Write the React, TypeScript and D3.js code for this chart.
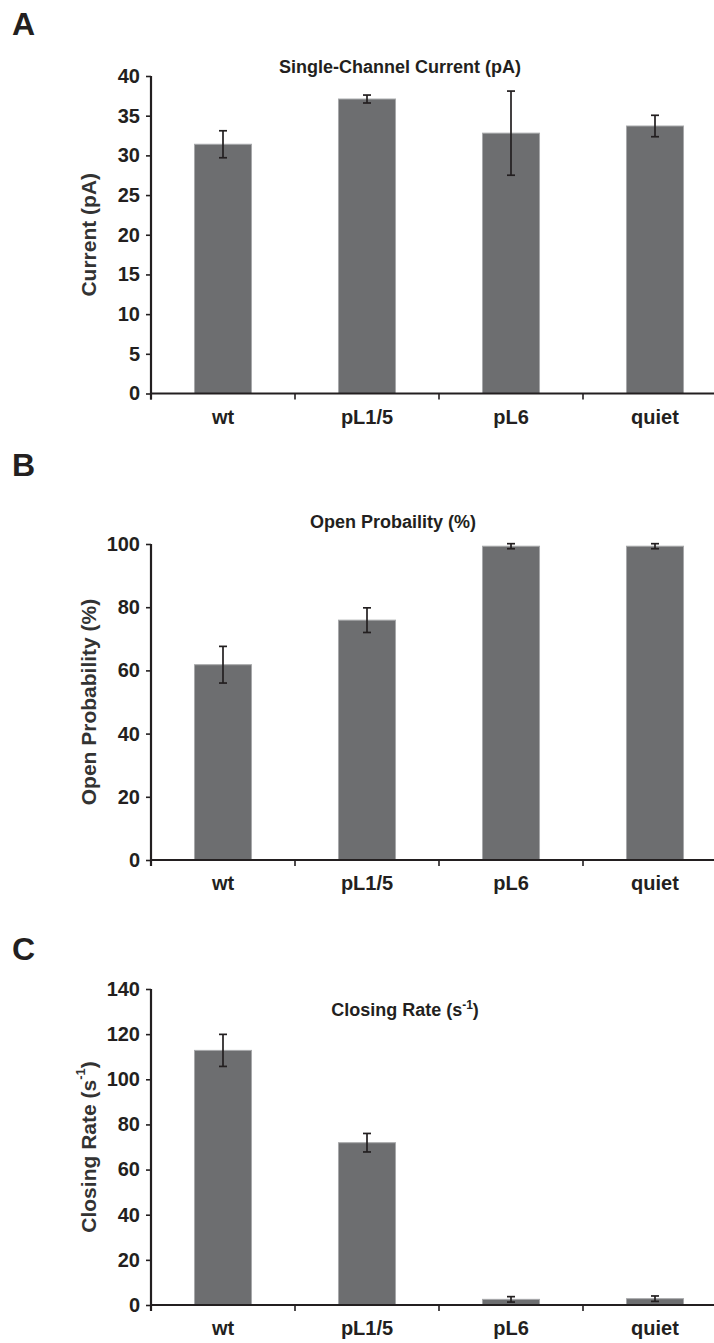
import React, { useEffect, useRef } from "react";
import * as d3 from "d3";

const categories = ["wt", "pL1/5", "pL6", "quiet"];

const currentValues = [31.4, 37.1, 32.8, 33.7];
const currentErrors = [1.7, 0.5, 5.3, 1.35];
const currentTicks = [0, 5, 10, 15, 20, 25, 30, 35, 40];

const openProbValues = [61.8, 75.9, 99.3, 99.3];
const openProbErrors = [5.8, 3.9, 0.8, 0.8];
const openProbTicks = [0, 20, 40, 60, 80, 100];

const closingValues = [112.8, 71.9, 2.5, 2.8];
const closingErrors = [7.1, 4.1, 1.2, 1.2];
const closingTicks = [0, 20, 40, 60, 80, 100, 120, 140];

const FONT = "'Liberation Sans', Arial, Helvetica, sans-serif";
const INK = "#231f20";
const BAR = "#6d6e70";

type Panel = {
  letter: string;
  letterY: number;
  title: string;
  titleSup?: string;
  titleX: number;
  titleY: number;
  yTitle: string;
  yTitleSup?: string;
  values: number[];
  errors: number[];
  ticks: number[];
  max: number;
  y0: number;
  yTop: number;
};

const panels: Panel[] = [
  {
    letter: "A", letterY: 35,
    title: "Single-Channel Current (pA)", titleX: 400, titleY: 73,
    yTitle: "Current (pA)",
    values: currentValues, errors: currentErrors, ticks: currentTicks, max: 40,
    y0: 393.5, yTop: 76,
  },
  {
    letter: "B", letterY: 476,
    title: "Open Probaility (%)", titleX: 393, titleY: 528,
    yTitle: "Open Probability (%)",
    values: openProbValues, errors: openProbErrors, ticks: openProbTicks, max: 100,
    y0: 860, yTop: 544,
  },
  {
    letter: "C", letterY: 960,
    title: "Closing Rate (s", titleSup: "-1", titleX: 405, titleY: 1016,
    yTitle: "Closing Rate (s", yTitleSup: "-1",
    values: closingValues, errors: closingErrors, ticks: closingTicks, max: 140,
    y0: 1305, yTop: 989,
  },
];

export default function App() {
  const ref = useRef<SVGSVGElement | null>(null);

  useEffect(() => {
    const svg = d3.select(ref.current);
    svg.selectAll("*").remove();

    const axisX0 = 151;
    const axisX1 = 727;
    const x = d3
      .scaleBand<string>()
      .domain(categories)
      .range([axisX0, axisX1])
      .paddingInner(0.604)
      .paddingOuter(0.302);
    const step = x.step();

    panels.forEach((p) => {
      const g = svg.append("g");
      const y = d3.scaleLinear().domain([0, p.max]).range([p.y0, p.yTop]);

      g.append("text")
        .attr("x", 12)
        .attr("y", p.letterY)
        .attr("font-family", FONT)
        .attr("font-weight", "bold")
        .attr("font-size", 32)
        .attr("fill", INK)
        .text(p.letter);

      const t = g
        .append("text")
        .attr("x", p.titleX)
        .attr("y", p.titleY)
        .attr("text-anchor", "middle")
        .attr("font-family", FONT)
        .attr("font-weight", "bold")
        .attr("font-size", 18)
        .attr("fill", INK);
      t.append("tspan").text(p.title);
      if (p.titleSup) {
        t.append("tspan").attr("font-size", 12).attr("dy", -7).text(p.titleSup);
        t.append("tspan").attr("dy", 7).text(")");
      }

      const yt = g
        .append("text")
        .attr("transform", `translate(88,${(p.y0 + p.yTop) / 2}) rotate(-90)`)
        .attr("text-anchor", "middle")
        .attr("dominant-baseline", "central")
        .attr("font-family", FONT)
        .attr("font-weight", "bold")
        .attr("font-size", 21)
        .attr("fill", "#333");
      yt.append("tspan").text(p.yTitle);
      if (p.yTitleSup) {
        yt.append("tspan").attr("font-size", 13).attr("dy", -8).text(p.yTitleSup);
        yt.append("tspan").attr("dy", 8).text(")");
      }

      g.selectAll("rect.bar")
        .data(p.values)
        .join("rect")
        .attr("class", "bar")
        .attr("x", (_, i) => x(categories[i])!)
        .attr("width", x.bandwidth())
        .attr("y", (d) => y(d))
        .attr("height", (d) => p.y0 - y(d))
        .attr("fill", BAR)
        .attr("stroke", "#a7a8aa")
        .attr("stroke-width", 1);

      const cap = 4;
      p.values.forEach((v, i) => {
        const cx = x(categories[i])! + x.bandwidth() / 2;
        const e = p.errors[i];
        const top = y(v + e);
        const bot = y(Math.max(0, v - e));
        const eg = g.append("g").attr("stroke", INK).attr("stroke-width", 1.7);
        eg.append("line").attr("x1", cx).attr("x2", cx).attr("y1", top).attr("y2", bot);
        eg.append("line").attr("x1", cx - cap).attr("x2", cx + cap).attr("y1", top).attr("y2", top);
        eg.append("line").attr("x1", cx - cap).attr("x2", cx + cap).attr("y1", bot).attr("y2", bot);
      });

      const ya = g
        .append("g")
        .attr("transform", `translate(${axisX0},0)`)
        .call(
          d3.axisLeft(y).tickValues(p.ticks).tickSize(5).tickSizeOuter(0).tickPadding(6).tickFormat(d3.format("d"))
        );
      ya.select(".domain").remove();
      ya.selectAll(".tick line").attr("stroke", INK).attr("stroke-width", 1.6);
      ya.selectAll(".tick text")
        .attr("font-family", FONT)
        .attr("font-weight", "bold")
        .attr("font-size", 20)
        .attr("fill", INK);
      g.append("line")
        .attr("x1", axisX0)
        .attr("x2", axisX0)
        .attr("y1", p.yTop)
        .attr("y2", p.y0 + 6)
        .attr("stroke", INK)
        .attr("stroke-width", 2.2);

      const xa = g
        .append("g")
        .attr("transform", `translate(0,${p.y0})`)
        .call(d3.axisBottom(x).tickSize(0).tickSizeOuter(0).tickPadding(16));
      xa.select(".domain").remove();
      xa.selectAll(".tick text")
        .attr("font-family", FONT)
        .attr("font-weight", "bold")
        .attr("font-size", 20)
        .attr("fill", INK);
      g.append("line")
        .attr("x1", axisX0)
        .attr("x2", axisX1)
        .attr("y1", p.y0)
        .attr("y2", p.y0)
        .attr("stroke", INK)
        .attr("stroke-width", 2.2);
      d3.range(categories.length + 1).forEach((i) => {
        const bx = axisX0 + step * i;
        g.append("line")
          .attr("x1", bx)
          .attr("x2", bx)
          .attr("y1", p.y0)
          .attr("y2", p.y0 + 6)
          .attr("stroke", INK)
          .attr("stroke-width", 1.6);
      });
    });
  }, []);

  return (
    <svg
      ref={ref}
      width={714}
      height={1343}
      style={{ position: "absolute", left: 0, top: 0, background: "#fff" }}
    />
  );
}
